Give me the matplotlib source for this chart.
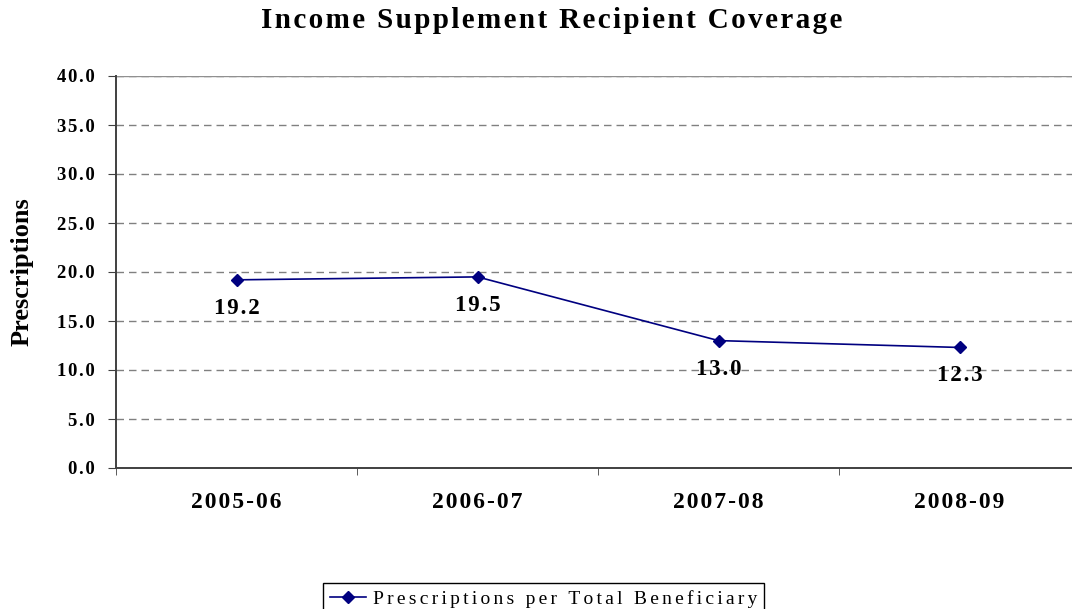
import matplotlib.pyplot as plt

# data
years = ['2005-06', '2006-07', '2007-08', '2008-09']
prescriptions = [19.2, 19.5, 13.0, 12.3]
y_ticks = [0, 5, 10, 15, 20, 25, 30, 35, 40]
series_name = 'Prescriptions per Total Beneficiary'
title = 'Income Supplement Recipient Coverage'

plt.rcParams['font.family'] = ['Liberation Serif', 'DejaVu Serif']

HAIR = '\u200a'


def spaced(text, sep=HAIR):
    # the original has loose letter spacing, fake it with hair spaces
    return sep.join(text)


W, H = 1072, 609
fig = plt.figure(figsize=(W / 100, H / 100), dpi=100)
# plot area runs a little past the right edge, like the original
ax = fig.add_axes([116 / W, 141 / H, 964 / W, 392 / H])

x = list(range(len(years)))
ax.plot(x, prescriptions, color='#000080', lw=1.2, marker='D', ms=6,
        label=spaced(series_name, HAIR * 2))

for xi, v in zip(x, prescriptions):
    ax.annotate(spaced(f'{v:.1f}'), (xi, v), xytext=(0, -34),
                textcoords='offset pixels', ha='center', va='baseline',
                fontsize=16.5, fontweight='bold')

ax.set_xlim(-0.5, len(years) - 0.5)
ax.set_ylim(0, 40)

# gridlines: dashed, the top one solid
ax.grid(axis='y', color='#808080', lw=1, linestyle=(0, (5.4, 3.6)))
ax.axhline(40, color='#909090', lw=1)
ax.set_axisbelow(True)

ax.set_yticks(y_ticks, labels=[spaced(f'{v:.1f}') for v in y_ticks])
ax.set_xticks(x, labels=[spaced(y) for y in years])
ax.set_xticks([i - 0.5 for i in range(len(years) + 1)], minor=True)
ax.tick_params(axis='x', which='major', length=0, pad=17, labelsize=17)
ax.tick_params(axis='x', which='minor', length=5, direction='out',
               color='#404040')
ax.tick_params(axis='y', length=6, direction='out', pad=9.5,
               labelsize=13.5, color='#404040')
for lab in ax.get_xticklabels() + ax.get_yticklabels():
    lab.set_fontweight('bold')

for side in ['top', 'right']:
    ax.spines[side].set_visible(False)
for side in ['left', 'bottom']:
    ax.spines[side].set_color('#404040')
    ax.spines[side].set_linewidth(1.4)

fig.text(552 / W, 1 - 28 / H, spaced(title), ha='center', va='baseline',
         fontsize=21, fontweight='bold')
fig.text(22 / W, 1 - 272 / H, 'Prescriptions', rotation=90, ha='center',
         va='center', fontsize=19, fontweight='bold')

leg = ax.legend(loc='upper left', bbox_to_anchor=(323 / W, 1 - 583 / H),
                bbox_transform=fig.transFigure, borderaxespad=0,
                fancybox=False, edgecolor='black', framealpha=1,
                fontsize=14, handlelength=1.85, handletextpad=0.35,
                borderpad=0.35)
leg.get_frame().set_linewidth(1)

fig.savefig('out.png', dpi=100)
